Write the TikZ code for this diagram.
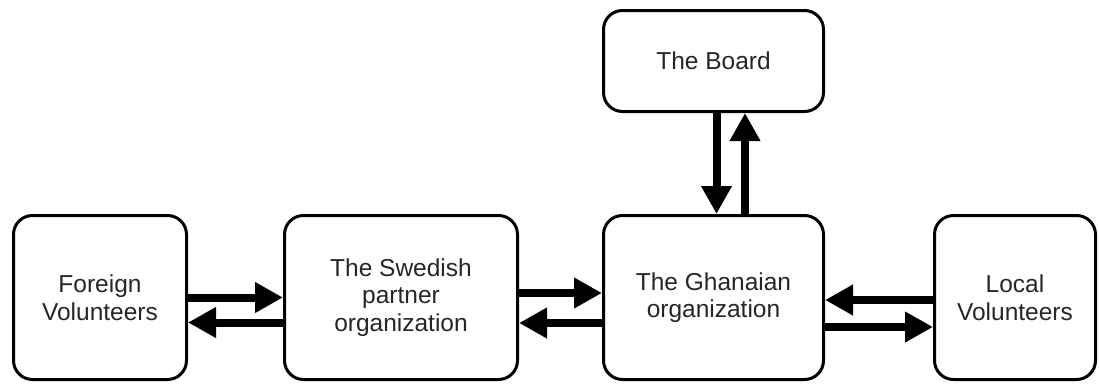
\documentclass[tikz,border=0pt]{standalone}
\usepackage{fontspec}
\setmainfont{Liberation Sans}
\usetikzlibrary{arrows.meta}
\begin{document}
\begin{tikzpicture}[x=1pt,y=-1pt,
  box/.style={draw=black,line width=3pt,rounded corners=19pt,inner sep=0pt,
    align=center,font=\fontsize{24.5}{27.5}\selectfont,text=black!85},
  arr/.style={line width=8pt,-{Triangle[length=28pt,width=29pt]}}]
\useasboundingbox (0,0) rectangle (1099,383);
\node[box,minimum width=173pt,minimum height=164pt] (foreign) at (100,297.5) {Foreign\\Volunteers};
\node[box,minimum width=233pt,minimum height=164pt] (swedish) at (401,297.5) {The Swedish\\partner\\organization};
\node[box,minimum width=220pt,minimum height=164pt] (ghana) at (713.5,297.5) {The Ghanaian\\organization};
\node[box,minimum width=220pt,minimum height=101pt] (board) at (713.5,61) {The Board};
\node[box,minimum width=161pt,minimum height=164pt] (local) at (1015,297.5) {Local\\Volunteers};
\draw[arr] (foreign.east |- 0,297.5) -- (swedish.west |- 0,297.5);
\draw[arr] (swedish.west |- 0,322.5) -- (foreign.east |- 0,322.5);
\draw[arr] (swedish.east |- 0,293) -- (ghana.west |- 0,293);
\draw[arr] (ghana.west |- 0,323) -- (swedish.east |- 0,323);
\draw[arr] (local.west |- 0,300) -- (ghana.east |- 0,300);
\draw[arr] (ghana.east |- 0,327) -- (local.west |- 0,327);
\draw[arr] (board.south -| 716.5,0) -- (ghana.north -| 716.5,0);
\draw[arr] (ghana.north -| 745,0) -- (board.south -| 745,0);
\end{tikzpicture}
\end{document}
